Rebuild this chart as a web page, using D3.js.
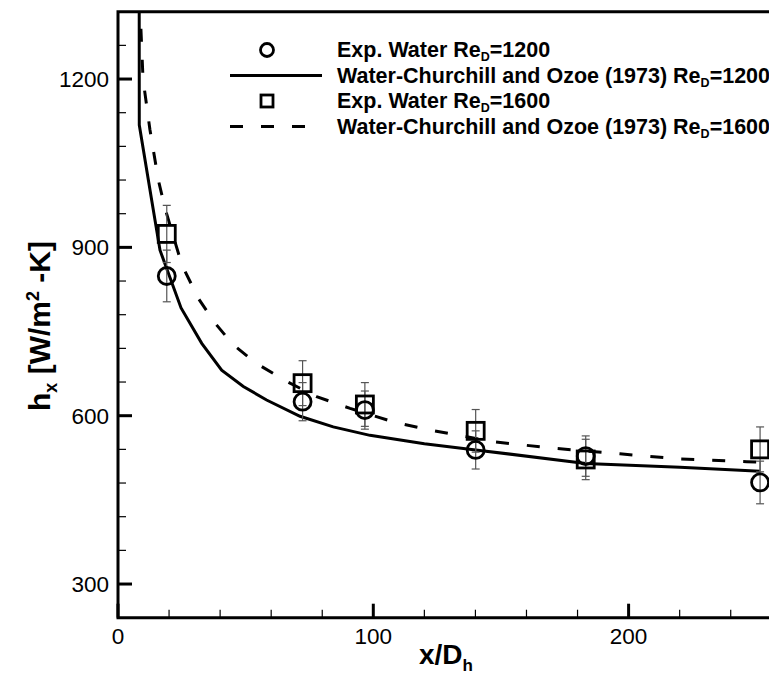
<!DOCTYPE html>
<html><head><meta charset="utf-8">
<script src="https://cdn.jsdelivr.net/npm/d3@7"></script>
<style>body{margin:0;background:#fff}text{font-family:"Liberation Sans",Arial,Helvetica,sans-serif}</style>
</head><body><svg id="c" width="769" height="677"></svg>
<script>
// ---- data ----
const expX = [19.1, 72.3, 96.7, 140.1, 183.2, 251.5];
const exp1200 = [849, 625, 610, 539, 528, 481];
const err1200 = [46, 34, 34, 34, 36, 38];
const exp1600 = [924, 658, 620, 573, 522, 540];
const err1600 = [51, 40, 39, 38, 36, 40];
const corrX1200 = [8.30, 8.34, 13.2, 16.45, 24.7, 32.8, 40.6, 49.1, 58.2, 71.3, 84.3, 98.7, 120, 140.1, 183.2, 220.1, 251.5];
const corr1200  = [1400, 1118, 984, 895, 792, 729, 681, 652, 628, 599, 580, 565, 550, 539, 515, 508, 501];
const corrX1600 = [8.5, 8.6, 9.8, 12.5, 15.8, 18.4, 25.0, 31.5, 38.0, 45.2, 54.3, 66.1, 77.8, 90.9, 108.5, 122.2, 147.0, 170.5, 196.6, 220.1, 246.3, 251.5];
const corr1600  = [1400, 1330, 1200, 1110, 1020, 970, 869, 809, 765, 726, 693, 661, 634, 613, 588, 574.5, 553.6, 542, 532, 523, 518, 517];
const xMajor = [0, 100, 200];
const yMajor = [300, 600, 900, 1200];
const legendLabels = [
  ["Exp. Water Re", "D", "=1200"],
  ["Water-Churchill and Ozoe (1973) Re", "D", "=1200"],
  ["Exp. Water Re", "D", "=1600"],
  ["Water-Churchill and Ozoe (1973) Re", "D", "=1600"]
];

// ---- layout ----
const svg = d3.select("#c");
const L = 118, T = 11.7, B = 617.7;
const x = d3.scaleLinear().domain([0, 260]).range([L, L + 260 * 2.553]);
const y = d3.scaleLinear().domain([240, 1320]).range([B, T]);
const R = x(260);

svg.append("defs").append("clipPath").attr("id", "clip")
  .append("rect").attr("x", L).attr("y", T).attr("width", R - L).attr("height", B - T);

// ticks (inward)
const xMinor = d3.range(20, 260, 20).filter(v => !xMajor.includes(v));
const yMinor = d3.range(360, 1320, 60).filter(v => !yMajor.includes(v));
const g = svg.append("g");
g.selectAll(".xmin").data(xMinor).join("line")
  .attr("x1", d => x(d)).attr("x2", d => x(d)).attr("y1", B).attr("y2", B - 8)
  .attr("stroke", "#000").attr("stroke-width", 1.2);
g.selectAll(".xmaj").data(xMajor).join("line")
  .attr("x1", d => x(d)).attr("x2", d => x(d)).attr("y1", B).attr("y2", B - 14)
  .attr("stroke", "#000").attr("stroke-width", 3);
g.selectAll(".ymin").data(yMinor).join("line")
  .attr("x1", L).attr("x2", L + 8).attr("y1", d => y(d)).attr("y2", d => y(d))
  .attr("stroke", "#000").attr("stroke-width", 1.2);
g.selectAll(".ymaj").data(yMajor).join("line")
  .attr("x1", L).attr("x2", L + 14).attr("y1", d => y(d)).attr("y2", d => y(d))
  .attr("stroke", "#000").attr("stroke-width", 3);

// frame
g.append("path").attr("d", `M${R},${T}H${L}V${B}H${R}`)
  .attr("fill", "none").attr("stroke", "#000").attr("stroke-width", 3);

// tick labels
g.selectAll(".xl").data(xMajor).join("text")
  .attr("x", d => x(d)).attr("y", 644).attr("text-anchor", "middle")
  .attr("font-size", 22.5).text(d => d);
g.selectAll(".yl").data(yMajor).join("text")
  .attr("x", 109).attr("y", d => y(d) + 8).attr("text-anchor", "end")
  .attr("font-size", 22.5).text(d => d);

// axis titles
const xt = svg.append("text").attr("x", 446).attr("y", 664).attr("text-anchor", "middle")
  .attr("font-size", 28).attr("font-weight", "bold");
xt.append("tspan").text("x/D");
xt.append("tspan").attr("font-size", 17).attr("dy", 7).text("h");

const yt = svg.append("text").attr("transform", "translate(50,326) rotate(-90)")
  .attr("text-anchor", "middle").attr("font-size", 30).attr("font-weight", "bold");
yt.append("tspan").text("h");
yt.append("tspan").attr("font-size", 18).attr("dy", 7).text("x");
yt.append("tspan").attr("dy", -7).text(" [W/m");
yt.append("tspan").attr("font-size", 18).attr("dy", -11).text("2");
yt.append("tspan").attr("dy", 11).text(" -K]");

// curves
const plot = svg.append("g").attr("clip-path", "url(#clip)");
const line = d3.line().x(d => x(d[0])).y(d => y(d[1]));
plot.append("path").attr("d", line(d3.zip(corrX1200, corr1200)))
  .attr("fill", "none").attr("stroke", "#000").attr("stroke-width", 3);
plot.append("path").attr("d", line(d3.zip(corrX1600, corr1600)))
  .attr("fill", "none").attr("stroke", "#000").attr("stroke-width", 3)
  .attr("stroke-dasharray", "13,18");

// error bars
function errBars(xs, ys, es) {
  const eg = plot.append("g").attr("stroke", "#555").attr("stroke-width", 1.2);
  xs.forEach((xv, i) => {
    const px = x(xv), top = y(ys[i] + es[i]), bot = y(ys[i] - es[i]);
    eg.append("line").attr("x1", px).attr("x2", px).attr("y1", top).attr("y2", bot);
    eg.append("line").attr("x1", px - 4).attr("x2", px + 4).attr("y1", top).attr("y2", top);
    eg.append("line").attr("x1", px - 4).attr("x2", px + 4).attr("y1", bot).attr("y2", bot);
  });
}
errBars(expX, exp1200, err1200);
errBars(expX, exp1600, err1600);

// markers
plot.selectAll(".c").data(d3.zip(expX, exp1200)).join("circle")
  .attr("cx", d => x(d[0])).attr("cy", d => y(d[1])).attr("r", 8.5)
  .attr("fill", "none").attr("stroke", "#000").attr("stroke-width", 2.8);
plot.selectAll(".s").data(d3.zip(expX, exp1600)).join("rect")
  .attr("x", d => x(d[0]) - 8.5).attr("y", d => y(d[1]) - 8.5).attr("width", 17).attr("height", 17)
  .attr("fill", "none").attr("stroke", "#000").attr("stroke-width", 2.8);

// legend
const lg = svg.append("g");
const rowY = [50, 75.5, 101, 126.5];
const sx = 267, lx0 = 230, lx1 = 322, tx = 337;
lg.append("circle").attr("cx", sx).attr("cy", rowY[0]).attr("r", 6.5)
  .attr("fill", "none").attr("stroke", "#000").attr("stroke-width", 2.8);
lg.append("line").attr("x1", lx0).attr("x2", lx1).attr("y1", rowY[1]).attr("y2", rowY[1])
  .attr("stroke", "#000").attr("stroke-width", 3);
lg.append("rect").attr("x", sx - 6).attr("y", rowY[2] - 6).attr("width", 12).attr("height", 12)
  .attr("fill", "none").attr("stroke", "#000").attr("stroke-width", 2.8);
lg.append("line").attr("x1", lx0).attr("x2", lx1).attr("y1", rowY[3]).attr("y2", rowY[3])
  .attr("stroke", "#000").attr("stroke-width", 3).attr("stroke-dasharray", "13,18");
legendLabels.forEach((parts, i) => {
  const t = lg.append("text").attr("x", tx).attr("y", rowY[i] + 7)
    .attr("font-size", 21.5).attr("font-weight", "bold");
  t.append("tspan").text(parts[0]);
  t.append("tspan").attr("font-size", 12.5).attr("dy", 4).text(parts[1]);
  t.append("tspan").attr("dy", -4).text(parts[2]);
});
</script></body></html>
